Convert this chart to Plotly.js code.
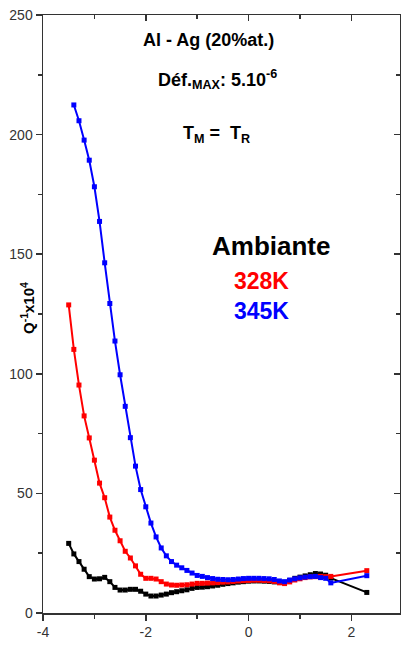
<!DOCTYPE html>
<html>
<head>
<meta charset="utf-8">
<script src="https://cdn.plot.ly/plotly-3.0.1.min.js"></script>
<style>html,body{margin:0;padding:0;background:#fff;}#chart{width:401px;height:657px;}</style>
</head>
<body>
<div id="chart"></div>
<script>
// log10(freq./Hz) values
const freqBlack = [-3.5,-3.4,-3.3,-3.2,-3.1,-3.0,-2.9,-2.8,-2.7,-2.6,-2.5,-2.4,-2.3,-2.2,-2.1,-2.0,-1.9,-1.8,-1.7,-1.6,-1.5,-1.4,-1.3,-1.2,-1.1,-1.0,
  -0.9,-0.8,-0.7,-0.6,-0.5,-0.4,-0.3,-0.2,-0.1,0.0,0.1,0.2,0.3,0.4,0.5,0.6,0.7,0.8,0.9,1.0,1.1,1.2,1.3,1.4,1.5,1.6,2.3];
const freqRed = [-3.5,-3.4,-3.3,-3.2,-3.1,-3.0,-2.9,-2.8,-2.7,-2.6,-2.5,-2.4,-2.3,-2.2,-2.1,-2.0,-1.9,-1.8,-1.7,-1.6,-1.5,-1.4,-1.3,-1.2,-1.1,-1.0,
  -0.9,-0.8,-0.7,-0.6,-0.5,-0.4,-0.3,-0.2,-0.1,0.0,0.1,0.2,0.3,0.4,0.5,0.6,0.7,0.8,0.9,1.0,1.1,1.2,1.3,1.4,1.5,1.6,2.3];
const freqBlue = [-3.4,-3.3,-3.2,-3.1,-3.0,-2.9,-2.8,-2.7,-2.6,-2.5,-2.4,-2.3,-2.2,-2.1,-2.0,-1.9,-1.8,-1.7,-1.6,-1.5,-1.4,-1.3,-1.2,-1.1,-1.0,
  -0.9,-0.8,-0.7,-0.6,-0.5,-0.4,-0.3,-0.2,-0.1,0.0,0.1,0.2,0.3,0.4,0.5,0.6,0.7,0.8,0.9,1.0,1.1,1.2,1.3,1.4,1.5,1.6,2.3];

// Q^-1 x10^4 values
const qAmbiante = [29.1,24.7,21.5,18.3,15.2,14.2,14.3,14.9,13.1,10.7,9.6,9.6,9.9,9.9,9.1,7.9,7.1,7.1,7.5,7.9,8.5,8.9,9.3,9.7,10.3,10.7,
  10.8,11.0,11.3,11.6,12.0,12.3,12.6,12.9,13.1,13.3,13.4,13.4,13.3,13.2,13.0,12.8,12.8,13.6,14.5,15.0,15.5,16.0,16.5,16.3,15.8,14.6,8.6];
const q328K = [128.8,110.2,95.3,82.4,73.2,63.9,54.3,48.2,40.1,34.6,30.2,25.8,23.0,19.7,16.2,14.5,14.5,14.2,13.1,12.1,11.7,11.6,11.7,11.8,12.1,12.4,
  12.4,12.5,12.6,12.7,12.9,13.0,13.2,13.4,13.5,13.6,13.7,13.7,13.6,13.5,13.2,12.6,12.3,13.0,13.8,14.3,14.8,15.1,15.2,15.3,15.2,15.3,17.7];
const q345K = [212.4,205.8,197.7,189.3,178.2,163.7,146.4,129.4,113.7,99.6,86.4,73.3,61.4,51.6,44.4,37.6,31.8,27.2,23.9,21.5,20.0,18.9,17.8,16.7,15.7,
  15.3,14.8,14.4,14.1,14.0,13.9,14.0,14.2,14.4,14.5,14.5,14.5,14.4,14.3,14.0,13.4,13.1,13.8,14.3,14.7,15.0,15.2,15.3,14.8,14.5,12.6,15.6];

const seriesNames = ['Ambiante', '328K', '345K'];
const xTickVals = [-4, -2, 0, 2];
const xTickText = ['-4', '-2', '0', '2'];
const yTickVals = [0, 50, 100, 150, 200, 250];
const yTickText = ['0', '50', '100', '150', '200', '250'];

const FONT = 'Liberation Sans, Arial, sans-serif';
const AX = '#333333';

function line(x, y, color, name) {
  return {
    type: 'scatter', mode: 'lines+markers', x: x, y: y, name: name,
    line: {color: color, width: 2},
    marker: {symbol: 'square', size: 5, color: color},
    hoverinfo: 'skip'
  };
}

const data = [
  line(freqBlack, qAmbiante, '#000000', seriesNames[0]),
  line(freqRed, q328K, '#ff0000', seriesNames[1]),
  line(freqBlue, q345K, '#0000ff', seriesNames[2]),
  {type: 'scatter', x: [], y: [], xaxis: 'x2', yaxis: 'y2', showlegend: false, hoverinfo: 'skip'}
];

const XR = [-4, 2.946];
const YR = [0, 250];

const axCommon = {
  showgrid: false, zeroline: false, showline: true, linecolor: AX, linewidth: 1.5,
  tickcolor: AX, tickwidth: 1.5, ticklen: 6,
  tickfont: {family: FONT, size: 14, color: AX}
};

const layout = {
  width: 401, height: 657,
  margin: {l: 43, r: 1, t: 15, b: 44, pad: 0},
  paper_bgcolor: '#ffffff', plot_bgcolor: '#ffffff',
  showlegend: false,
  font: {family: FONT, color: '#000'},
  xaxis: Object.assign({}, axCommon, {
    range: XR, tickmode: 'array', tickvals: xTickVals, ticktext: xTickText, ticks: 'outside',
    minor: {tickvals: [-3, -1, 1], ticks: 'outside', ticklen: 4, tickcolor: AX, tickwidth: 1.5}
  }),
  yaxis: Object.assign({}, axCommon, {
    range: YR, tickmode: 'array', tickvals: yTickVals, ticktext: yTickText, ticks: 'outside',
    minor: {tickvals: [25, 75, 125, 175, 225], ticks: 'outside', ticklen: 4, tickcolor: AX, tickwidth: 1.5}
  }),
  xaxis2: Object.assign({}, axCommon, {
    range: XR, overlaying: 'x', side: 'top', anchor: 'y2', ticks: 'inside', showticklabels: false,
    tickmode: 'array', tickvals: xTickVals,
    minor: {tickvals: [-3, -1, 1], ticks: 'inside', ticklen: 4, tickcolor: AX, tickwidth: 1.5}
  }),
  yaxis2: Object.assign({}, axCommon, {
    range: YR, overlaying: 'y', side: 'right', anchor: 'x2', ticks: 'inside', showticklabels: false,
    tickmode: 'array', tickvals: yTickVals,
    minor: {tickvals: [25, 75, 125, 175, 225], ticks: 'inside', ticklen: 4, tickcolor: AX, tickwidth: 1.5}
  }),
  annotations: [
    {text: '<b>Al - Ag (20%at.)</b>', x: -2.086, y: 239.5, xref: 'x', yref: 'y', xanchor: 'left', yanchor: 'middle',
     showarrow: false, font: {family: FONT, size: 18, color: '#000'}},
    {text: '<b>Déf.<sub>MAX</sub>: 5.10<sup>-6</sup></b>', x: -1.794, y: 223, xref: 'x', yref: 'y', xanchor: 'left', yanchor: 'middle',
     showarrow: false, font: {family: FONT, size: 18, color: '#000'}},
    {text: '<b>T<sub>M</sub> =\u00a0 T<sub>R</sub></b>', x: -1.307, y: 200, xref: 'x', yref: 'y', xanchor: 'left', yanchor: 'middle',
     showarrow: false, font: {family: FONT, size: 18, color: '#000'}},
    {text: '<b>' + seriesNames[0] + '</b>', x: -0.757, y: 153.4, xref: 'x', yref: 'y', xanchor: 'left', yanchor: 'middle',
     showarrow: false, font: {family: FONT, size: 26, color: '#000000'}},
    {text: '<b>' + seriesNames[1] + '</b>', x: -0.315, y: 138.9, xref: 'x', yref: 'y', xanchor: 'left', yanchor: 'middle',
     showarrow: false, font: {family: FONT, size: 23, color: '#ff0000'}},
    {text: '<b>' + seriesNames[2] + '</b>', x: -0.315, y: 126.4, xref: 'x', yref: 'y', xanchor: 'left', yanchor: 'middle',
     showarrow: false, font: {family: FONT, size: 23, color: '#0000ff'}},
    {text: '<b>log<sub>10</sub>(freq./Hz)</b>', x: -0.504, y: -13.8, xref: 'x', yref: 'y', xanchor: 'center', yanchor: 'middle',
     showarrow: false, font: {family: FONT, size: 16, color: '#000'}},
    {text: '<b>Q<sup>-1</sup>x10<sup>4</sup></b>', x: -0.0448, y: 127.5, xref: 'paper', yref: 'y', xanchor: 'center', yanchor: 'middle',
     textangle: -90, showarrow: false, font: {family: FONT, size: 15, color: '#000'}}
  ]
};

Plotly.newPlot('chart', data, layout, {staticPlot: true, displayModeBar: false});
</script>
</body>
</html>
